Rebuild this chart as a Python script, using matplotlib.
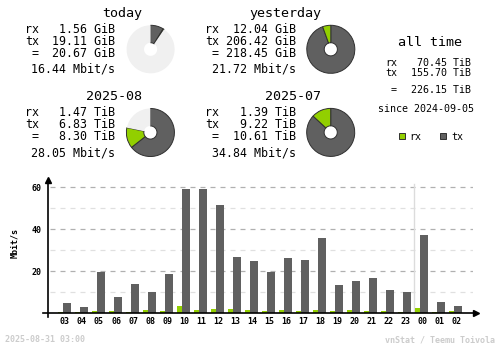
import matplotlib
matplotlib.use("Agg")
import matplotlib.pyplot as plt
from matplotlib.patches import Rectangle
import numpy as np

# ---- data -------------------------------------------------------------
hours = ["03", "04", "05", "06", "07", "08", "09", "10", "11", "12", "13", "14",
         "15", "16", "17", "18", "19", "20", "21", "22", "23", "00", "01", "02"]
rx_rate = [0.6, 0.6, 1.1, 1.1, 0.6, 1.6, 1.1, 3.5, 1.6, 2.1, 2.1, 1.6,
           1.1, 1.6, 1.1, 1.6, 1.1, 1.6, 1.1, 1.1, 0.6, 2.5, 0.6, 1.1]
tx_rate = [4.9, 3.0, 19.8, 7.8, 14.0, 10.2, 18.7, 59.2, 59.2, 51.6, 26.8, 24.9,
           19.8, 26.3, 25.4, 35.9, 13.5, 15.4, 16.8, 11.1, 10.2, 37.3, 5.4, 3.5]

today = {"rx": 1.56, "tx": 19.11, "total": 20.67, "rate": 16.44}
yesterday = {"rx": 12.04, "tx": 206.42, "total": 218.45, "rate": 21.72}
month_cur = {"rx": 1.47, "tx": 6.83, "total": 8.30, "rate": 28.05}
month_prev = {"rx": 1.39, "tx": 9.22, "total": 10.61, "rate": 34.84}
all_time = {"rx": 70.45, "tx": 155.70, "total": 226.15}
since_date = "2024-09-05"
timestamp = "2025-08-31 03:00"

# ---- style ------------------------------------------------------------
C_RX = "#92CF00"
C_TX = "#606060"
C_REST = "#F0F0F0"
C_EDGE = "#303030"
C_LINE = "#B0B0B0"
C_LINEL = "#E0E0E0"
C_FOOT = "#CCCCCC"
MONO = "DejaVu Sans Mono"

W, H = 500, 348
fig = plt.figure(figsize=(W / 100, H / 100), dpi=100)
fig.patch.set_facecolor("white")


def box(x0, y0, x1, y1):
    """Pixel box (top-left origin) -> figure fraction rect."""
    return [x0 / W, 1 - y1 / H, (x1 - x0) / W, (y1 - y0) / H]


# overlay in pixel coordinates for the text blocks
ov = fig.add_axes([0, 0, 1, 1])
ov.set_xlim(0, W)
ov.set_ylim(H, 0)
ov.axis("off")


def summary_block(title, title_right, top, lx, vx, d, unit):
    ov.text(title_right, top + 16.7, title, ha="right", va="baseline",
            fontsize=9.6, family=MONO)
    rows = [("rx", d["rx"]), ("tx", d["tx"]), (" =", d["total"])]
    for (lab, val), yb in zip(rows, [33.3, 45.0, 57.0]):
        ov.text(lx, top + yb, lab, ha="left", va="baseline", fontsize=8.4, family=MONO)
        ov.text(vx, top + yb, f"{val:.2f} {unit}", ha="right", va="baseline",
                fontsize=8.4, family=MONO)
    ov.text(vx, top + 73.0, f"{d['rate']:.2f} Mbit/s", ha="right", va="baseline",
            fontsize=8.4, family=MONO)


def usage_pie(cx, cy, d, ref_total, r=24.5, hole=6.7):
    ax = fig.add_axes(box(cx - r, cy - r, cx + r, cy + r))
    rest = max(ref_total - d["rx"] - d["tx"], 0.0)
    wedges, _ = ax.pie([d["tx"], d["rx"], rest], colors=[C_TX, C_RX, C_REST],
                       startangle=90, counterclock=False, radius=1.0,
                       wedgeprops=dict(width=1 - hole / r, edgecolor=C_EDGE,
                                       linewidth=0.7))
    wedges[2].set_linewidth(0)
    ax.set_xlim(-1.02, 1.02)
    ax.set_ylim(-1.02, 1.02)
    ax.set_aspect("equal")
    ax.axis("off")


summary_block("today", 142, 0, 25, 115, today, "GiB")
summary_block("yesterday", 321.5, 0, 205, 295.7, yesterday, "GiB")
summary_block("2025-08", 142, 83, 25, 115, month_cur, "TiB")
summary_block("2025-07", 321.5, 83, 205, 295.7, month_prev, "TiB")

day_ref = max(today["total"], yesterday["total"])
month_ref = max(month_cur["total"], month_prev["total"])
usage_pie(150.6, 49.3, today, day_ref)
usage_pie(330.8, 49.3, yesterday, day_ref)
usage_pie(150.4, 132.5, month_cur, month_ref)
usage_pie(330.7, 132.4, month_prev, month_ref)

# all time block
ov.text(430, 45.7, "all time", ha="center", va="baseline", fontsize=9.6, family=MONO)
for (lab, val), yb in zip([("rx", all_time["rx"]), ("tx", all_time["tx"]),
                           (" =", all_time["total"])], [66.0, 76.0, 92.8]):
    ov.text(385, yb, lab, ha="left", va="baseline", fontsize=7.2, family=MONO)
    ov.text(471, yb, f"{val:.2f} TiB", ha="right", va="baseline", fontsize=7.2, family=MONO)
ov.text(426.3, 111.7, f"since {since_date}", ha="center", va="baseline",
        fontsize=7.2, family=MONO)

# legend
for x_sq, x_txt, col, lab in [(398.5, 409.3, C_RX, "rx"), (440.2, 451.7, C_TX, "tx")]:
    ov.add_patch(Rectangle((x_sq, 133.2), 6, 6, facecolor=col, edgecolor=C_EDGE, lw=0.7))
    ov.text(x_txt, 139.6, lab, ha="left", va="baseline", fontsize=7.2, family=MONO)

# footer
ov.text(5, 340, timestamp, ha="left", va="center", fontsize=6, family=MONO,
        color=C_FOOT, fontweight="bold")
ov.text(495, 340, "vnStat / Teemu Toivola", ha="right", va="center", fontsize=6,
        family=MONO, color=C_FOOT, fontweight="bold")

# ---- hourly bar chart -------------------------------------------------
ax = fig.add_axes(box(48.3, 180, 472.7, 313.3))
x = np.arange(len(hours))
xl, xr = -0.982, 23.98
ax.set_xlim(xl, xr)
ax.set_ylim(0, 63.5)
for s in ax.spines.values():
    s.set_visible(False)
ax.set_facecolor("none")

for yv in range(10, 70, 10):
    ax.axhline(yv, xmin=0.004, xmax=1, color=C_LINE if yv % 20 == 0 else C_LINEL,
               lw=0.9, ls=(0, (4, 4)), zorder=0)
ax.axvline(20.5, ymin=0, ymax=(313.3 - 184) / (313.3 - 180), color="#DCDCDC",
           lw=1.0, zorder=0)

ax.bar(x - 0.394, rx_rate, width=0.294, align="edge", color=C_RX, zorder=2)
ax.bar(x - 0.100, tx_rate, width=0.453, align="edge", color=C_TX, zorder=2)

# axes with arrow heads
ax.plot([xl, xl], [-1.6, 63.2], color="black", lw=1.2, clip_on=False, zorder=3)
ax.plot([xl], [63.5], marker="^", ms=4, color="black", clip_on=False, zorder=3)
ax.plot([-1.276, 24.1], [0, 0], color="black", lw=1.2, clip_on=False, zorder=3)
ax.plot([24.2], [0], marker=">", ms=4, color="black", clip_on=False, zorder=3)

ax.set_xticks(x)
ax.set_xticklabels(hours, fontsize=6, family=MONO, fontweight="bold")
ax.set_yticks([20, 40, 60])
ax.set_yticklabels(["20", "40", "60"], fontsize=6, family=MONO, fontweight="bold")
ax.tick_params(axis="x", length=0, pad=3.0)
ax.tick_params(axis="y", length=0, pad=4.6)
ax.set_ylabel("Mbit/s", fontsize=6, family=MONO, fontweight="bold", va="center")
ax.yaxis.set_label_coords((14.3 - 48.3) / (472.7 - 48.3), (313.3 - 243.3) / (313.3 - 180))

fig.savefig("out.png", dpi=100, facecolor="white")
